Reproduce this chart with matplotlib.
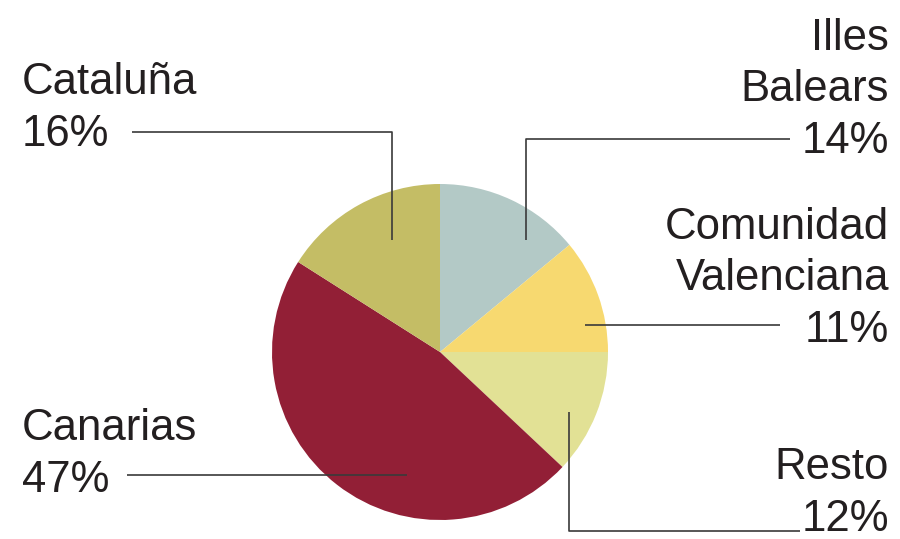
"""Distribución por comunidades - pie chart."""
from matplotlib import pyplot as plt

regions = ['Illes Balears', 'Comunidad Valenciana', 'Resto', 'Canarias', 'Cataluña']
shares = [14, 11, 12, 47, 16]
colors = ['#b3c9c6', '#f7d970', '#e2e195', '#921f36', '#c4bd65']

W, H = 900, 539
fig = plt.figure(figsize=(9, 5.39), dpi=100)
ax = fig.add_axes([0, 0, 1, 1])

# Pie, clockwise from 12 o'clock
ax.pie(shares, colors=colors, startangle=90, counterclock=False,
       center=(440, H - 352), radius=168, frame=True,
       wedgeprops=dict(linewidth=0))
ax.set_xlim(0, W)
ax.set_ylim(0, H)
ax.set_aspect('equal')
ax.axis('off')

txt = dict(fontsize=31.5, color='#231f20', family='Liberation Sans',
           linespacing=1.33)
line = dict(color='#3a3a3a', lw=1.2, solid_capstyle='butt')

# labels: (text, x, y of last baseline, ha) in pixel coords (y from top)
labels = [
    ('Illes\nBalears\n{}%'.format(shares[0]), 889, 153, 'right'),
    ('Comunidad\nValenciana\n{}%'.format(shares[1]), 889, 342, 'right'),
    ('Resto\n{}%'.format(shares[2]), 889, 531, 'right'),
    ('Canarias\n{}%'.format(shares[3]), 22, 492, 'left'),
    ('Cataluña\n{}%'.format(shares[4]), 22, 146, 'left'),
]
for s, x, y, ha in labels:
    ax.text(x, H - y, s, ha=ha, va='baseline', multialignment=ha, **txt)

# leader lines
leaders = [
    ([790, 526, 526], [139, 139, 240]),
    ([780, 585], [325, 325]),
    ([800, 569, 569], [531, 531, 412]),
    ([127, 407], [475, 475]),
    ([132, 392, 392], [132, 132, 240]),
]
for xs, ys in leaders:
    ax.plot(xs, [H - v for v in ys], **line)

fig.savefig('out.png', dpi=100, facecolor='white')
